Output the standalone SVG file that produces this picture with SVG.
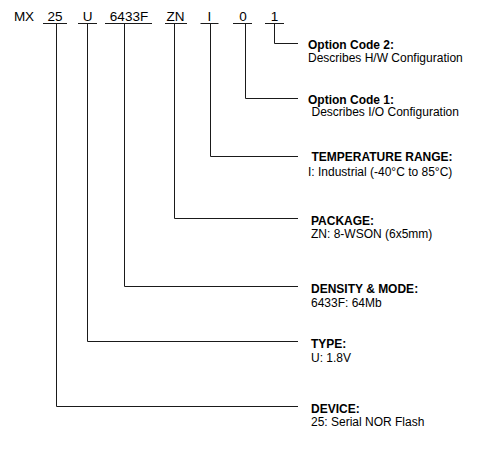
<svg xmlns="http://www.w3.org/2000/svg" width="486" height="451" viewBox="0 0 486 451">
<style>
text{font-family:"Liberation Sans",Arial,sans-serif;fill:#000}
.code{font-size:13.5px;text-anchor:middle}
.t{font-size:12px;font-weight:bold}
.d{font-size:12px}
.ln{stroke:#1a1a1a;stroke-width:1;fill:none}
</style>
<rect width="486" height="451" fill="#fff"/>
<g id="part-number">
<text x="24" y="21" class="code">MX</text>
<text x="55" y="21" class="code">25</text>
<text x="87.5" y="21" class="code">U</text>
<text x="129" y="21" class="code">6433F</text>
<text x="175.5" y="21" class="code">ZN</text>
<text x="209.5" y="21" class="code">I</text>
<text x="243" y="21" class="code">0</text>
<text x="274.5" y="21" class="code">1</text>
</g>
<g id="connectors" class="ln">
<path d="M43,23.5H67M78,23.5H97M105,23.5H152M165,23.5H187M200.5,23.5H218.5M233,23.5H252M265,23.5H284"/>
<path d="M274.5,23.5V43.5H298"/>
<path d="M245.5,23.5V98.5H298"/>
<path d="M210.5,23.5V156.5H298"/>
<path d="M174.5,23.5V218.5H298"/>
<path d="M124.5,23.5V286.5H298"/>
<path d="M87.5,23.5V341.5H298"/>
<path d="M56.5,23.5V406.5H298"/>
</g>
<g id="option2">
<text x="308" y="48.5" class="t">Option Code 2:</text>
<text x="308" y="62" class="d">Describes H/W Configuration</text>
</g>
<g id="option1">
<text x="308" y="103.5" class="t">Option Code 1:</text>
<text x="311.5" y="116" class="d">Describes I/O Configuration</text>
</g>
<g id="temperature">
<text x="311.5" y="161" class="t">TEMPERATURE RANGE:</text>
<text x="308" y="176" class="d">I: Industrial (-40°C to 85°C)</text>
</g>
<g id="package">
<text x="311" y="225" class="t">PACKAGE:</text>
<text x="311" y="238" class="d">ZN: 8-WSON (6x5mm)</text>
</g>
<g id="density">
<text x="311" y="292.5" class="t">DENSITY &amp; MODE:</text>
<text x="311" y="306.5" class="d">6433F: 64Mb</text>
</g>
<g id="type">
<text x="311" y="347.5" class="t">TYPE:</text>
<text x="311" y="362" class="d">U: 1.8V</text>
</g>
<g id="device">
<text x="311" y="412.5" class="t">DEVICE:</text>
<text x="311" y="426" class="d">25: Serial NOR Flash</text>
</g>
</svg>
